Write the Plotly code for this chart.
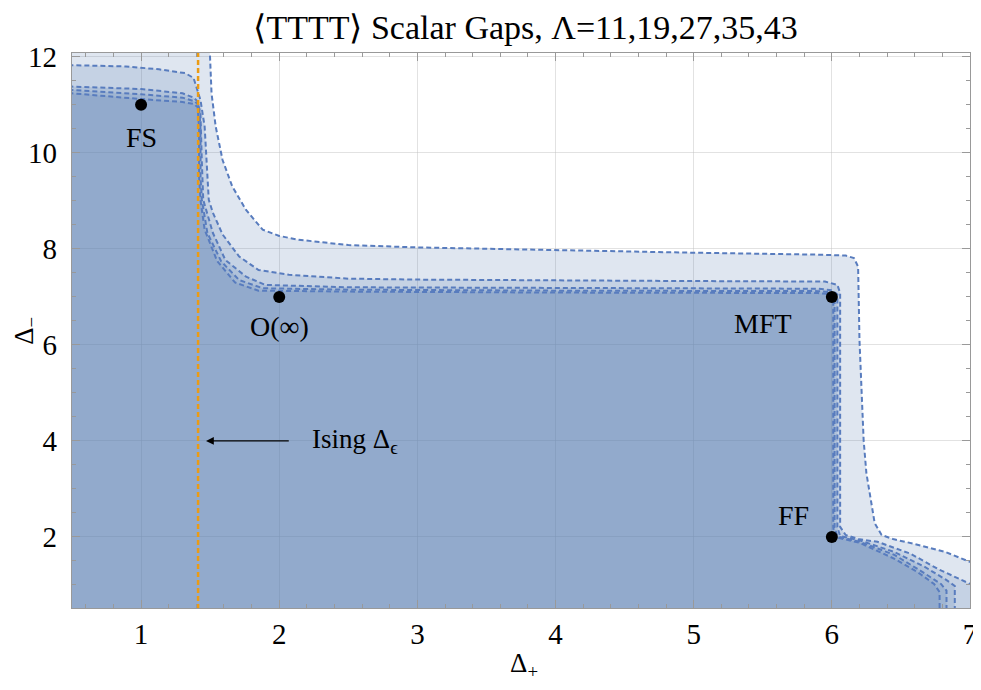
import plotly.graph_objects as go

# region boundaries (Delta+, Delta-) for each Lambda
LAMBDAS = [11, 19, 27, 35, 43]

lam11_x = [0.30, 1.49, 1.50, 1.51, 1.54, 1.59, 1.66, 1.76, 1.88, 2.00, 2.14, 2.50, 3.00, 4.00,
           5.00, 5.90, 6.10, 6.16, 6.19, 6.20, 6.23, 6.25, 6.28, 6.31, 6.36, 6.45, 6.59, 6.82,
           7.00, 7.30, 7.30, 0.30]
lam11_y = [12.60, 12.60, 11.94, 11.24, 10.55, 9.85, 9.30, 8.81, 8.40, 8.27, 8.19, 8.08, 8.03, 7.97,
           7.92, 7.88, 7.86, 7.81, 7.63, 6.10, 4.02, 3.33, 2.77, 2.29, 2.04, 1.95, 1.86, 1.69,
           1.48, 1.15, 0.00, 0.00]

lam19_x = [0.30, 0.50, 0.89, 1.13, 1.32, 1.38, 1.43, 1.46, 1.48, 1.49, 1.52, 1.59, 1.71, 1.85,
           2.07, 2.50, 3.00, 4.00, 5.00, 5.95, 6.04, 6.06, 6.06, 6.06, 6.10, 6.20, 6.33, 6.57,
           6.77, 7.00, 7.30, 7.30, 0.30]
lam19_y = [11.84, 11.83, 11.80, 11.74, 11.66, 11.56, 11.10, 10.55, 9.51, 9.02, 8.75, 8.30, 7.84, 7.56,
           7.46, 7.38, 7.36, 7.34, 7.33, 7.32, 7.25, 7.08, 4.00, 2.21, 2.04, 1.95, 1.90, 1.65,
           1.33, 1.02, 0.62, 0.00, 0.00]

lam27_x = [0.30, 0.50, 1.00, 1.30, 1.38, 1.41, 1.43, 1.44, 1.45, 1.52, 1.61, 1.76, 1.90, 2.50,
           4.00, 5.90, 6.00, 6.04, 6.04, 6.06, 6.21, 6.45, 6.67, 6.82, 6.89, 6.89, 0.30]
lam27_y = [11.40, 11.38, 11.33, 11.24, 11.15, 11.07, 10.80, 9.80, 9.02, 8.33, 7.77, 7.42, 7.25, 7.20,
           7.18, 7.17, 7.14, 7.05, 2.20, 2.02, 1.92, 1.69, 1.38, 1.12, 0.98, 0.00, 0.00]

lam35_x = [0.30, 0.50, 1.00, 1.30, 1.39, 1.42, 1.43, 1.43, 1.44, 1.48, 1.58, 1.71, 1.88, 2.50,
           4.00, 5.90, 5.99, 6.02, 6.02, 6.04, 6.20, 6.45, 6.64, 6.79, 6.83, 6.83, 0.30]
lam35_y = [11.32, 11.31, 11.22, 11.15, 11.07, 10.98, 10.50, 9.50, 9.02, 8.33, 7.74, 7.35, 7.18, 7.15,
           7.13, 7.12, 7.10, 7.02, 2.20, 2.01, 1.90, 1.63, 1.30, 1.02, 0.88, 0.00, 0.00]

lam43_x = [0.30, 0.50, 1.00, 1.30, 1.38, 1.41, 1.42, 1.42, 1.43, 1.46, 1.55, 1.68, 1.85, 2.50,
           4.00, 5.90, 5.98, 6.01, 6.01, 6.02, 6.20, 6.45, 6.62, 6.74, 6.78, 6.78, 0.30]
lam43_y = [11.25, 11.24, 11.12, 11.06, 11.02, 10.95, 10.50, 9.50, 9.02, 8.40, 7.75, 7.30, 7.13, 7.11,
           7.09, 7.08, 7.06, 7.00, 2.20, 2.00, 1.88, 1.55, 1.27, 1.02, 0.85, 0.00, 0.00]

ISING_DELTA = 1.41263

point_names = ["FS", "O(∞)", "MFT", "FF"]
point_x = [1, 2, 6, 6]
point_y = [11, 7, 7, 2]
label_x = [1.0, 2.0, 5.5, 5.72]
label_y = [10.33, 6.38, 6.45, 2.45]

regions = [(lam11_x, lam11_y), (lam19_x, lam19_y), (lam27_x, lam27_y),
           (lam35_x, lam35_y), (lam43_x, lam43_y)]

SERIF = "Liberation Serif"

fig = go.Figure()

for lam, (rx, ry) in zip(LAMBDAS, regions):
    fig.add_trace(go.Scatter(
        x=rx, y=ry, mode="lines", fill="toself",
        fillcolor="rgba(94,129,181,0.2)",
        line=dict(color="rgb(88,124,190)", width=2, dash="5px,3px"),
        name=f"Λ={lam}", hoverinfo="skip"))

# Ising epsilon line
fig.add_trace(go.Scatter(
    x=[ISING_DELTA, ISING_DELTA], y=[0, 13], mode="lines",
    line=dict(color="rgb(235,155,20)", width=2.5, dash="5px,3px"), hoverinfo="skip"))

fig.add_trace(go.Scatter(
    x=point_x, y=point_y, mode="markers",
    marker=dict(color="black", size=12), hoverinfo="skip"))

for name, lx, ly in zip(point_names, label_x, label_y):
    fig.add_annotation(x=lx, y=ly, text=name, showarrow=False,
                       font=dict(family=SERIF, size=28, color="black"))

# arrow pointing at the Ising line
fig.add_annotation(x=1.47, y=4, ax=2.08, ay=4, axref="x", ayref="y", text="",
                   showarrow=True, arrowhead=2, arrowsize=1.2, arrowwidth=1.3, arrowcolor="black")
fig.add_annotation(x=2.22, y=4, text="Ising Δ<sub>ϵ</sub>", showarrow=False, xanchor="left",
                   font=dict(family=SERIF, size=27, color="black"))

# axis titles
fig.add_annotation(xref="paper", yref="paper", x=0.503, y=-0.103, text="Δ<sub>+</sub>",
                   xanchor="center", yanchor="middle",
                   showarrow=False, font=dict(family=SERIF, size=27, color="black"))
fig.add_annotation(xref="paper", yref="paper", x=-0.052, y=0.5, text="Δ<sub>−</sub>", textangle=-90,
                   xanchor="center", yanchor="middle",
                   showarrow=False, font=dict(family=SERIF, size=27, color="black"))

axis_common = dict(
    showgrid=True, gridcolor="rgba(190,190,190,0.45)", gridwidth=1,
    showline=True, linecolor="#999999", linewidth=1.2, mirror="allticks",
    ticks="inside", ticklen=8, tickcolor="#999999",
    tickfont=dict(family=SERIF, size=29, color="black"),
    zeroline=False, automargin=False, ticklabeloverflow="allow",
)

fig.update_xaxes(range=[0.5, 7.0], tickvals=[1, 2, 3, 4, 5, 6, 7], ticklabelstandoff=0,
                 minor=dict(dtick=0.2, tick0=0, ticks="inside", ticklen=4, tickcolor="#999999", showgrid=False),
                 **axis_common)
fig.update_yaxes(range=[0.52, 12.08], tickvals=[2, 4, 6, 8, 10, 12], ticklabelstandoff=8,
                 minor=dict(dtick=0.5, tick0=0, ticks="inside", ticklen=4, tickcolor="#999999", showgrid=False),
                 **axis_common)

# page has an 8px body margin, so the figure is trimmed to fit the window
fig.update_layout(
    width=973, height=674,
    margin=dict(l=64, r=11, t=45, b=74),
    paper_bgcolor="white", plot_bgcolor="white",
    showlegend=False,
    title=dict(text="⟨TTTT⟩ Scalar Gaps, Λ=11,19,27,35,43", x=0.532, xanchor="center",
               yref="container", y=0.972, yanchor="middle",
               font=dict(family=SERIF, size=34, color="black")),
)

fig.write_html("out.html")
